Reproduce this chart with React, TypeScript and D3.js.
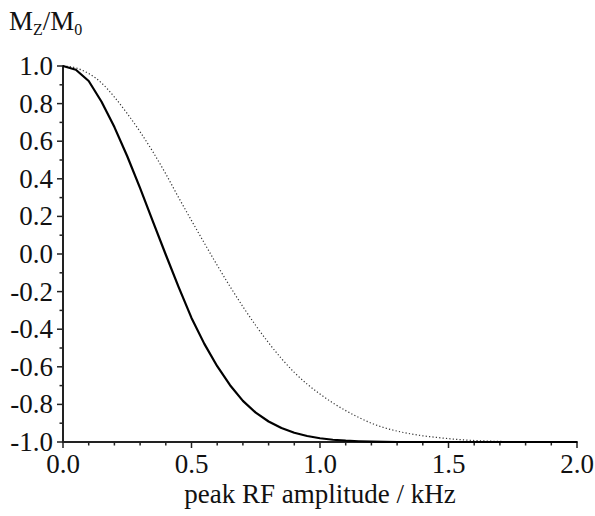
import React, { useEffect, useRef } from "react";
import * as d3 from "d3";

const W = 595;
const H = 516;

const xValues = [
  0, 0.05, 0.1, 0.15, 0.2, 0.25, 0.3, 0.35, 0.4, 0.45, 0.5, 0.55, 0.6, 0.65, 0.7,
  0.75, 0.8, 0.85, 0.9, 0.95, 1.0, 1.05, 1.1, 1.15, 1.2, 1.25, 1.3, 1.35, 1.4,
  1.45, 1.5, 1.55, 1.6, 1.65, 1.7, 1.75, 1.8, 1.85, 1.9, 1.95, 2.0,
];

const solidMz = [
  1.0, 0.98, 0.92, 0.81, 0.675, 0.52, 0.35, 0.172, -0.004, -0.176, -0.34, -0.478,
  -0.597, -0.698, -0.781, -0.844, -0.891, -0.926, -0.951, -0.968, -0.98, -0.988,
  -0.993, -0.996, -0.998, -0.999, -1.0, -1.0, -1.0, -1.0, -1.0, -1.0, -1.0, -1.0,
  -1.0, -1.0, -1.0, -1.0, -1.0, -1.0, -1.0,
];

const dottedMz = [
  1.0, 0.99, 0.96, 0.91, 0.835, 0.747, 0.65, 0.543, 0.426, 0.3, 0.178, 0.058,
  -0.06, -0.173, -0.28, -0.38, -0.472, -0.556, -0.63, -0.692, -0.745, -0.792,
  -0.833, -0.869, -0.9, -0.924, -0.942, -0.956, -0.967, -0.975, -0.982, -0.988,
  -0.992, -0.995, -0.997, -0.9985, -0.9995, -1.0, -1.0, -1.0, -1.0,
];

const xTickLabels = ["0.0", "0.5", "1.0", "1.5", "2.0"];
const yTickLabels = ["1.0", "0.8", "0.6", "0.4", "0.2", "0.0", "-0.2", "-0.4", "-0.6", "-0.8", "-1.0"];
const xLabel = "peak RF amplitude / kHz";

export default function App() {
  const ref = useRef<SVGSVGElement>(null);

  useEffect(() => {
    const svg = d3.select(ref.current);
    svg.selectAll("*").remove();
    const font = "'Liberation Serif', 'Times New Roman', serif";
    const fs = 27;

    const x = d3.scaleLinear().domain([0, 2]).range([63, 577]);
    const y = d3.scaleLinear().domain([-1, 1]).range([442, 66]);

    const g = svg.append("g");

    const xMinor = d3.range(0, 21).map((i) => i / 10);
    g.selectAll(".xt")
      .data(xMinor)
      .enter()
      .append("line")
      .attr("x1", (d) => x(d))
      .attr("x2", (d) => x(d))
      .attr("y1", y(-1))
      .attr("y2", (d, i) => y(-1) + (i % 5 === 0 ? 6 : 3.5))
      .attr("stroke", "#222")
      .attr("stroke-width", 1.5);

    const yMinor = d3.range(0, 21).map((i) => -1 + i / 10);
    g.selectAll(".yt")
      .data(yMinor)
      .enter()
      .append("line")
      .attr("y1", (d) => y(d))
      .attr("y2", (d) => y(d))
      .attr("x1", x(0))
      .attr("x2", (d, i) => x(0) - (i % 2 === 0 ? 6 : 3.5))
      .attr("stroke", "#222")
      .attr("stroke-width", 1.5);

    g.append("line")
      .attr("x1", x(0) - 0.75)
      .attr("x2", x(2) + 0.75)
      .attr("y1", y(-1))
      .attr("y2", y(-1))
      .attr("stroke", "#222")
      .attr("stroke-width", 2);
    g.append("line")
      .attr("x1", x(0))
      .attr("x2", x(0))
      .attr("y1", y(1) - 0.75)
      .attr("y2", y(-1) + 0.75)
      .attr("stroke", "#222")
      .attr("stroke-width", 2);

    g.selectAll(".xl")
      .data(xTickLabels)
      .enter()
      .append("text")
      .attr("x", (d) => x(+d))
      .attr("y", 473)
      .attr("text-anchor", "middle")
      .attr("font-family", font)
      .attr("font-size", fs)
      .attr("fill", "#111")
      .text((d) => d);

    g.selectAll(".yl")
      .data(yTickLabels)
      .enter()
      .append("text")
      .attr("x", 53)
      .attr("y", (d) => y(+d) + 9)
      .attr("text-anchor", "end")
      .attr("font-family", font)
      .attr("font-size", fs)
      .attr("fill", "#111")
      .text((d) => d);

    g.append("text")
      .attr("x", (x(0) + x(2)) / 2)
      .attr("y", 503)
      .attr("text-anchor", "middle")
      .attr("font-family", font)
      .attr("font-size", fs)
      .attr("fill", "#111")
      .text(xLabel);

    const t = g
      .append("text")
      .attr("x", 9)
      .attr("y", 30)
      .attr("font-family", font)
      .attr("font-size", fs)
      .attr("fill", "#111");
    t.append("tspan").text("M");
    t.append("tspan").attr("font-size", 16).attr("dy", 5).text("Z");
    t.append("tspan").attr("dy", -5).text("/M");
    t.append("tspan").attr("font-size", 16).attr("dy", 5).text("0");

    const line = d3
      .line<number>()
      .x((_, i) => x(xValues[i]))
      .y((d) => y(d));

    g.append("path")
      .attr("d", line.curve(d3.curveMonotoneX)(dottedMz) || "")
      .attr("fill", "none")
      .attr("stroke", "#333")
      .attr("stroke-width", 1.2)
      .attr("stroke-dasharray", "1.2 2.2");

    g.append("path")
      .attr("d", line.curve(d3.curveLinear)(solidMz) || "")
      .attr("fill", "none")
      .attr("stroke", "#000")
      .attr("stroke-width", 2.2)
      .attr("stroke-linejoin", "round");
  }, []);

  return (
    <svg
      ref={ref}
      width={W}
      height={H}
      style={{ position: "absolute", left: 0, top: 0, background: "#fff" }}
    />
  );
}
